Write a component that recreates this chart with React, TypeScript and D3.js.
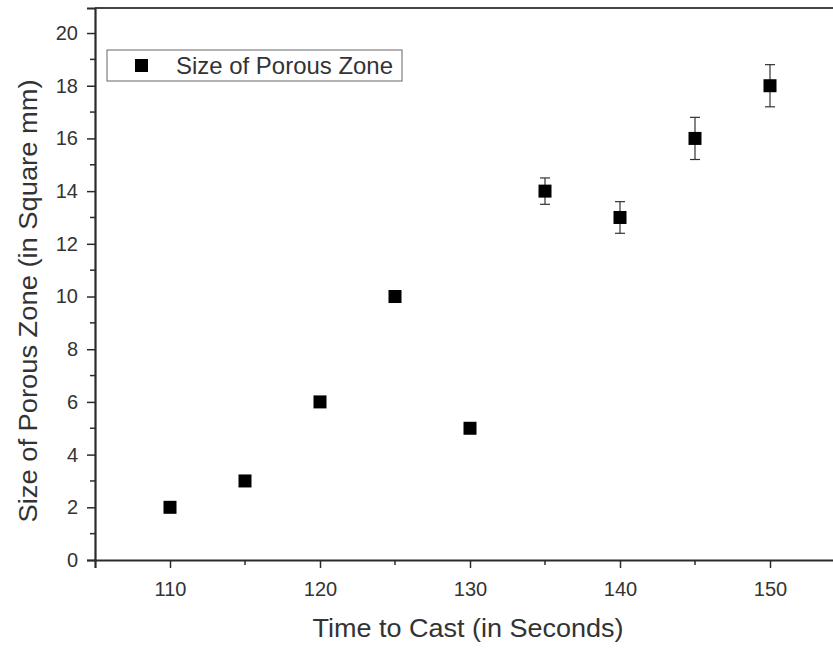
import { useEffect, useRef } from 'react'
import * as d3 from 'd3'

const times = [110, 115, 120, 125, 130, 135, 140, 145, 150]
const sizes = [2, 3, 6, 10, 5, 14, 13, 16, 18]
const errors = [0, 0, 0, 0.1, 0, 0.5, 0.6, 0.8, 0.8]
const xTicks = [110, 120, 130, 140, 150]
const yTicks = [0, 2, 4, 6, 8, 10, 12, 14, 16, 18, 20]
const seriesName = 'Size of Porous Zone'

const App = () => {
  const svgRef = useRef<SVGSVGElement>(null)

  useEffect(() => {
    const svg = d3.select(svgRef.current)
    svg.selectAll('*').remove()

    const left = 95
    const top = 8
    const bottom = 560
    const right = 845 // frame runs off the right edge, as in the picture

    const x = d3.scaleLinear().domain([105, 155]).range([left, right])
    const y = d3.scaleLinear().domain([0, 20.95]).range([bottom, top])

    const ink = '#2b2b2b'
    const font = '"Liberation Sans", Arial, sans-serif'

    // top frame line
    svg
      .append('line')
      .attr('x1', left)
      .attr('x2', right)
      .attr('y1', top)
      .attr('y2', top)
      .attr('stroke', '#444')
      .attr('stroke-width', 2)

    // x axis: major + minor ticks
    const xAxis = svg.append('g').attr('transform', `translate(0, ${bottom})`)
    xAxis.call(
      d3
        .axisBottom(x)
        .tickValues(xTicks)
        .tickSize(8)
        .tickPadding(14)
        .tickFormat(d3.format('d'))
    )
    xAxis
      .append('g')
      .selectAll('line')
      .data(d3.range(115, 155, 10))
      .enter()
      .append('line')
      .attr('x1', (d) => x(d))
      .attr('x2', (d) => x(d))
      .attr('y1', 0)
      .attr('y2', 5)
      .attr('stroke', ink)
      .attr('stroke-width', 1.5)

    // y axis
    const yAxis = svg.append('g').attr('transform', `translate(${left}, 0)`)
    yAxis.call(
      d3
        .axisLeft(y)
        .tickValues(yTicks)
        .tickSize(8)
        .tickPadding(9)
        .tickFormat(d3.format('d'))
    )
    yAxis
      .append('g')
      .selectAll('line')
      .data(d3.range(1, 21, 2))
      .enter()
      .append('line')
      .attr('x1', 0)
      .attr('x2', -5)
      .attr('y1', (d) => y(d))
      .attr('y2', (d) => y(d))
      .attr('stroke', ink)
      .attr('stroke-width', 1.5)

    svg.selectAll('.domain').attr('stroke', ink).attr('stroke-width', 2.2)
    svg.selectAll('.tick line').attr('stroke', ink).attr('stroke-width', 1.5)
    svg
      .selectAll('.tick text')
      .attr('fill', '#333')
      .style('font-family', font)
      .style('font-size', '20px')

    // axis titles
    svg
      .append('text')
      .attr('x', 468)
      .attr('y', 637)
      .attr('text-anchor', 'middle')
      .attr('fill', '#333')
      .attr('textLength', 311)
      .attr('lengthAdjust', 'spacingAndGlyphs')
      .style('font-family', font)
      .style('font-size', '25px')
      .text('Time to Cast (in Seconds)')

    svg
      .append('text')
      .attr('transform', `translate(37, 301) rotate(-90)`)
      .attr('text-anchor', 'middle')
      .attr('fill', '#333')
      .attr('textLength', 443)
      .attr('lengthAdjust', 'spacingAndGlyphs')
      .style('font-family', font)
      .style('font-size', '25px')
      .text('Size of Porous Zone (in Square mm)')

    // error bars
    const data = times.map((t, i) => ({ t, v: sizes[i], e: errors[i] }))
    const withErr = data.filter((d) => d.e > 0)
    const eb = svg.append('g').attr('stroke', '#333').attr('stroke-width', 1.2)
    eb.selectAll('.stem')
      .data(withErr)
      .enter()
      .append('line')
      .attr('x1', (d) => x(d.t))
      .attr('x2', (d) => x(d.t))
      .attr('y1', (d) => y(d.v - d.e))
      .attr('y2', (d) => y(d.v + d.e))
    eb.selectAll('.capTop')
      .data(withErr)
      .enter()
      .append('line')
      .attr('x1', (d) => x(d.t) - 5)
      .attr('x2', (d) => x(d.t) + 5)
      .attr('y1', (d) => y(d.v + d.e))
      .attr('y2', (d) => y(d.v + d.e))
    eb.selectAll('.capBot')
      .data(withErr)
      .enter()
      .append('line')
      .attr('x1', (d) => x(d.t) - 5)
      .attr('x2', (d) => x(d.t) + 5)
      .attr('y1', (d) => y(d.v - d.e))
      .attr('y2', (d) => y(d.v - d.e))

    // square markers
    const s = 13
    svg
      .append('g')
      .selectAll('rect')
      .data(data)
      .enter()
      .append('rect')
      .attr('x', (d) => x(d.t) - s / 2)
      .attr('y', (d) => y(d.v) - s / 2)
      .attr('width', s)
      .attr('height', s)
      .attr('fill', '#000')

    // legend
    const legend = svg.append('g')
    legend
      .append('rect')
      .attr('x', 107)
      .attr('y', 50)
      .attr('width', 295)
      .attr('height', 31)
      .attr('fill', 'white')
      .attr('stroke', '#666')
      .attr('stroke-width', 1)
    legend
      .append('rect')
      .attr('x', 135)
      .attr('y', 59)
      .attr('width', 13)
      .attr('height', 13)
      .attr('fill', '#000')
    legend
      .append('text')
      .attr('x', 176)
      .attr('y', 74)
      .attr('fill', '#333')
      .attr('textLength', 217)
      .attr('lengthAdjust', 'spacingAndGlyphs')
      .style('font-family', font)
      .style('font-size', '24px')
      .text(seriesName)
  }, [])

  return (
    <svg
      ref={svgRef}
      width='833'
      height='648'
      style={{ position: 'absolute', left: 0, top: 0, background: 'white' }}
    />
  )
}

export default App
